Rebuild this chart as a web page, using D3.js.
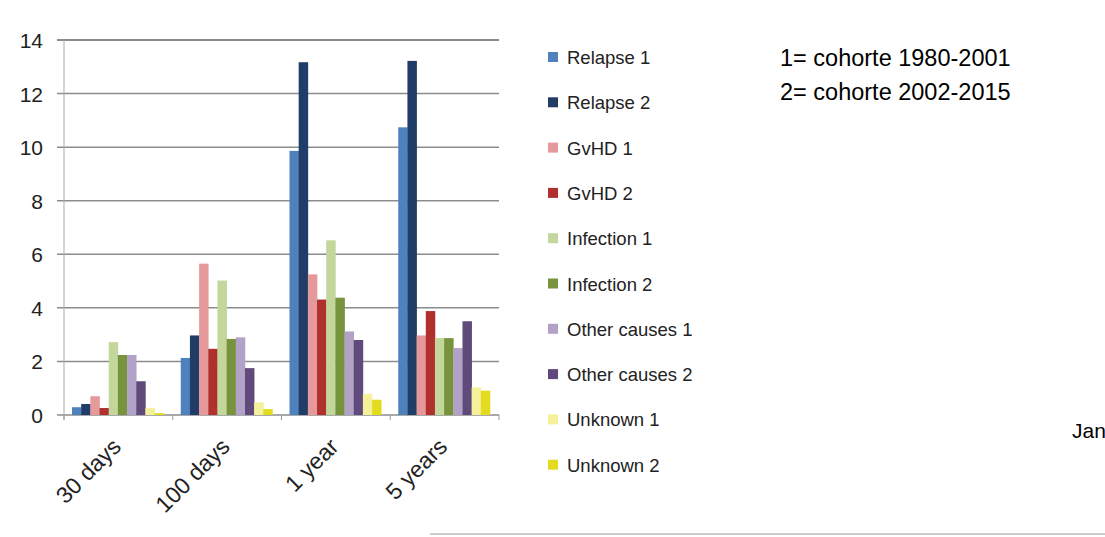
<!DOCTYPE html><html><head><meta charset="utf-8"><script src="https://cdn.jsdelivr.net/npm/d3@7"></script>
<style>body{margin:0;background:#fff}text{font-family:Arial,"Liberation Sans",sans-serif}</style></head><body><svg id="c" width="1105" height="537"></svg>
<script>
const categories=["30 days","100 days","1 year","5 years"];
const series=["Relapse 1","Relapse 2","GvHD 1","GvHD 2","Infection 1","Infection 2","Other causes 1","Other causes 2","Unknown 1","Unknown 2"];
const colors=["#4F81BD","#1F3D66","#E6999A","#B0302E","#C3D69B","#77933C","#B3A2C7","#604A7B","#F5F09A","#E3DC1E"];
const values=[
[0.29,0.41,0.7,0.26,2.72,2.24,2.24,1.26,0.26,0.07],
[2.13,2.97,5.65,2.47,5.02,2.84,2.9,1.75,0.47,0.22],
[9.86,13.17,5.25,4.31,6.52,4.38,3.12,2.8,0.79,0.57],
[10.74,13.22,2.97,3.88,2.87,2.87,2.5,3.5,1.03,0.91]];
const yTicks=[0,2,4,6,8,10,12,14];
const svg=d3.select("#c");
const x=d3.scaleBand().domain(categories).range([64,499]);
const xi=d3.scaleBand().domain(series).range([8,x.bandwidth()-9]);
const y=d3.scaleLinear().domain([0,14]).range([415,40]);
svg.append("g").selectAll("line").data(yTicks).join("line").attr("x1",57).attr("x2",499)
 .attr("y1",d=>y(d)).attr("y2",d=>y(d)).attr("stroke","#8c8c8c").attr("stroke-width",d=>d==14?2:1.5);
svg.append("line").attr("x1",64).attr("x2",64).attr("y1",40).attr("y2",420).attr("stroke","#aaa");
svg.append("g").selectAll("line").data(d3.range(5)).join("line").attr("x1",d=>64+d*x.step()).attr("x2",d=>64+d*x.step()).attr("y1",415).attr("y2",420).attr("stroke","#999");
svg.append("g").selectAll("text").data(yTicks).join("text").attr("x",43).attr("y",d=>y(d)+8).attr("text-anchor","end").attr("font-size",21).attr("fill","#222").text(d=>d);
categories.forEach((c,ci)=>{
 svg.append("g").selectAll("rect").data(values[ci]).join("rect").attr("x",(d,i)=>x(c)+xi(series[i])).attr("width",xi.bandwidth()+0.3)
  .attr("y",d=>y(d)).attr("height",d=>y(0)-y(d)).attr("fill",(d,i)=>colors[i]);
 svg.append("text").attr("transform",`translate(${x(c)+x.bandwidth()/2+4},${448}) rotate(-45)`).attr("text-anchor","end").attr("font-size",23).attr("fill","#222").text(c);
});
const lg=svg.append("g").selectAll("g").data(series).join("g").attr("transform",(d,i)=>`translate(548,${57+i*45.3})`);
lg.append("rect").attr("x",0).attr("y",-5).attr("width",10).attr("height",10).attr("fill",(d,i)=>colors[i]);
lg.append("text").attr("x",19).attr("y",7).attr("font-size",18.5).attr("fill","#222").text(d=>d);
svg.append("text").attr("x",780).attr("y",66).attr("font-size",23.5).attr("fill","#000").text("1= cohorte 1980-2001");
svg.append("text").attr("x",780).attr("y",100).attr("font-size",23.5).attr("fill","#000").text("2= cohorte 2002-2015");
svg.append("text").attr("x",1072).attr("y",438).attr("font-size",21).attr("fill","#000").text("Jan");
svg.append("line").attr("x1",430).attr("x2",1105).attr("y1",534).attr("y2",534).attr("stroke","#999");
</script></body></html>
